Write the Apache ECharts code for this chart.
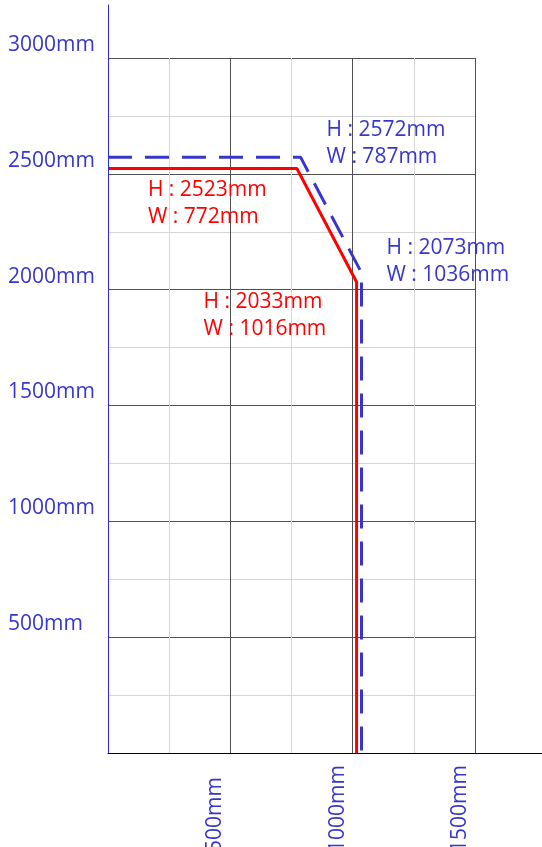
<!DOCTYPE html>
<html>
<head>
<meta charset="utf-8">
<script src="https://cdn.jsdelivr.net/npm/echarts@6/dist/echarts.min.js"></script>
<style>
html,body{margin:0;padding:0;background:#fff;}
#chart{width:542px;height:847px;}
</style>
</head>
<body>
<div id="chart"></div>
<script>
// Data
const xTicks = [0, 500, 1000, 1500];
const yTicks = [0, 500, 1000, 1500, 2000, 2500, 3000];
const redW = [0, 772, 1016, 1016];
const redH = [2523, 2523, 2033, 0];
const blueW = [0, 787, 1036, 1036];
const blueH = [2572, 2572, 2073, 0];
const redLabelIdx = [1, 2];
const blueLabelIdx = [1, 2];

const BLUE = '#3636cc';
const RED = '#ff0000';
const FONT = 'Open Sans';
const FS = 21;

const chart = echarts.init(document.getElementById('chart'));

function pts(w, h) { return w.map((v, i) => [v, h[i]]); }
const fmt = p => 'H : ' + p.value[1] + 'mm\nW : ' + p.value[0] + 'mm';

const redLabelData = redLabelIdx.map((i, k) => ({
  value: [redW[i], redH[i]],
  label: { offset: k === 0 ? [-149, 35] : [-153, 33] }
}));
const blueLabelData = blueLabelIdx.map((i, k) => ({
  value: [blueW[i], blueH[i]],
  label: { offset: k === 0 ? [26, -14] : [25, -11] }
}));

const labelBase = {
  show: true,
  position: 'right',
  distance: 0,
  formatter: fmt,
  fontFamily: FONT,
  fontSize: FS,
  lineHeight: 27,
  align: 'left',
  verticalAlign: 'middle',
  opacity: 1
};

chart.setOption({
  animation: false,
  backgroundColor: '#ffffff',
  grid: [
    { left: 108, top: 58, right: 67, bottom: 94, outerBoundsMode: 'none', containLabel: false },
    { left: 108, top: 5, right: -20, bottom: 94, outerBoundsMode: 'none', containLabel: false }
  ],
  xAxis: [
    {
      type: 'value', gridIndex: 0, min: xTicks[0], max: xTicks[xTicks.length - 1], interval: 500,
      axisLine: { show: false }, axisTick: { show: false },
      axisLabel: {
        show: true, rotate: 90, margin: 99, align: 'left', verticalAlign: 'bottom',
        lineHeight: 30, color: BLUE, fontFamily: FONT, fontSize: FS,
        formatter: v => v === 0 ? '' : v + 'mm'
      },
      splitLine: { show: true, lineStyle: { color: '#505050', width: 1 } },
      minorTick: { show: false, splitNumber: 2 },
      minorSplitLine: { show: true, lineStyle: { color: '#d6d6d6', width: 1 } }
    },
    {
      type: 'value', gridIndex: 1, min: 0, max: 1, position: 'bottom',
      axisLine: { show: true, onZero: false, lineStyle: { color: '#000000', width: 1 } },
      axisTick: { show: false }, axisLabel: { show: false }, splitLine: { show: false }, z: 10
    }
  ],
  yAxis: [
    {
      type: 'value', gridIndex: 0, min: yTicks[0], max: yTicks[yTicks.length - 1], interval: 500,
      axisLine: { show: false }, axisTick: { show: false },
      axisLabel: {
        show: true, margin: 100, align: 'left', verticalAlign: 'bottom',
        lineHeight: 26, color: BLUE, fontFamily: FONT, fontSize: FS,
        formatter: v => v === 0 ? '' : v + 'mm'
      },
      splitLine: { show: true, lineStyle: { color: '#505050', width: 1 } },
      minorTick: { show: false, splitNumber: 2 },
      minorSplitLine: { show: true, lineStyle: { color: '#d6d6d6', width: 1 } }
    },
    {
      type: 'value', gridIndex: 1, min: 0, max: 1, position: 'left',
      axisLine: { show: true, onZero: false, lineStyle: { color: '#2a2ae0', width: 1 } },
      axisTick: { show: false }, axisLabel: { show: false }, splitLine: { show: false }, z: 10
    }
  ],
  series: [
    {
      type: 'line', xAxisIndex: 0, yAxisIndex: 0, data: pts(blueW, blueH),
      showSymbol: false, symbol: 'none', z: 3,
      lineStyle: { color: BLUE, width: 3, type: [24, 13] }
    },
    {
      type: 'line', xAxisIndex: 0, yAxisIndex: 0, data: pts(redW, redH),
      showSymbol: false, symbol: 'none', z: 4,
      lineStyle: { color: RED, width: 3, type: 'solid' }
    },
    {
      type: 'scatter', xAxisIndex: 0, yAxisIndex: 0, symbolSize: 0, data: redLabelData,
      itemStyle: { opacity: 1, color: RED },
      label: Object.assign({}, labelBase, { color: RED }), z: 6, silent: true
    },
    {
      type: 'scatter', xAxisIndex: 0, yAxisIndex: 0, symbolSize: 0, data: blueLabelData,
      itemStyle: { opacity: 1, color: BLUE },
      label: Object.assign({}, labelBase, { color: BLUE }), z: 6, silent: true
    }
  ]
});
</script>
</body>
</html>
